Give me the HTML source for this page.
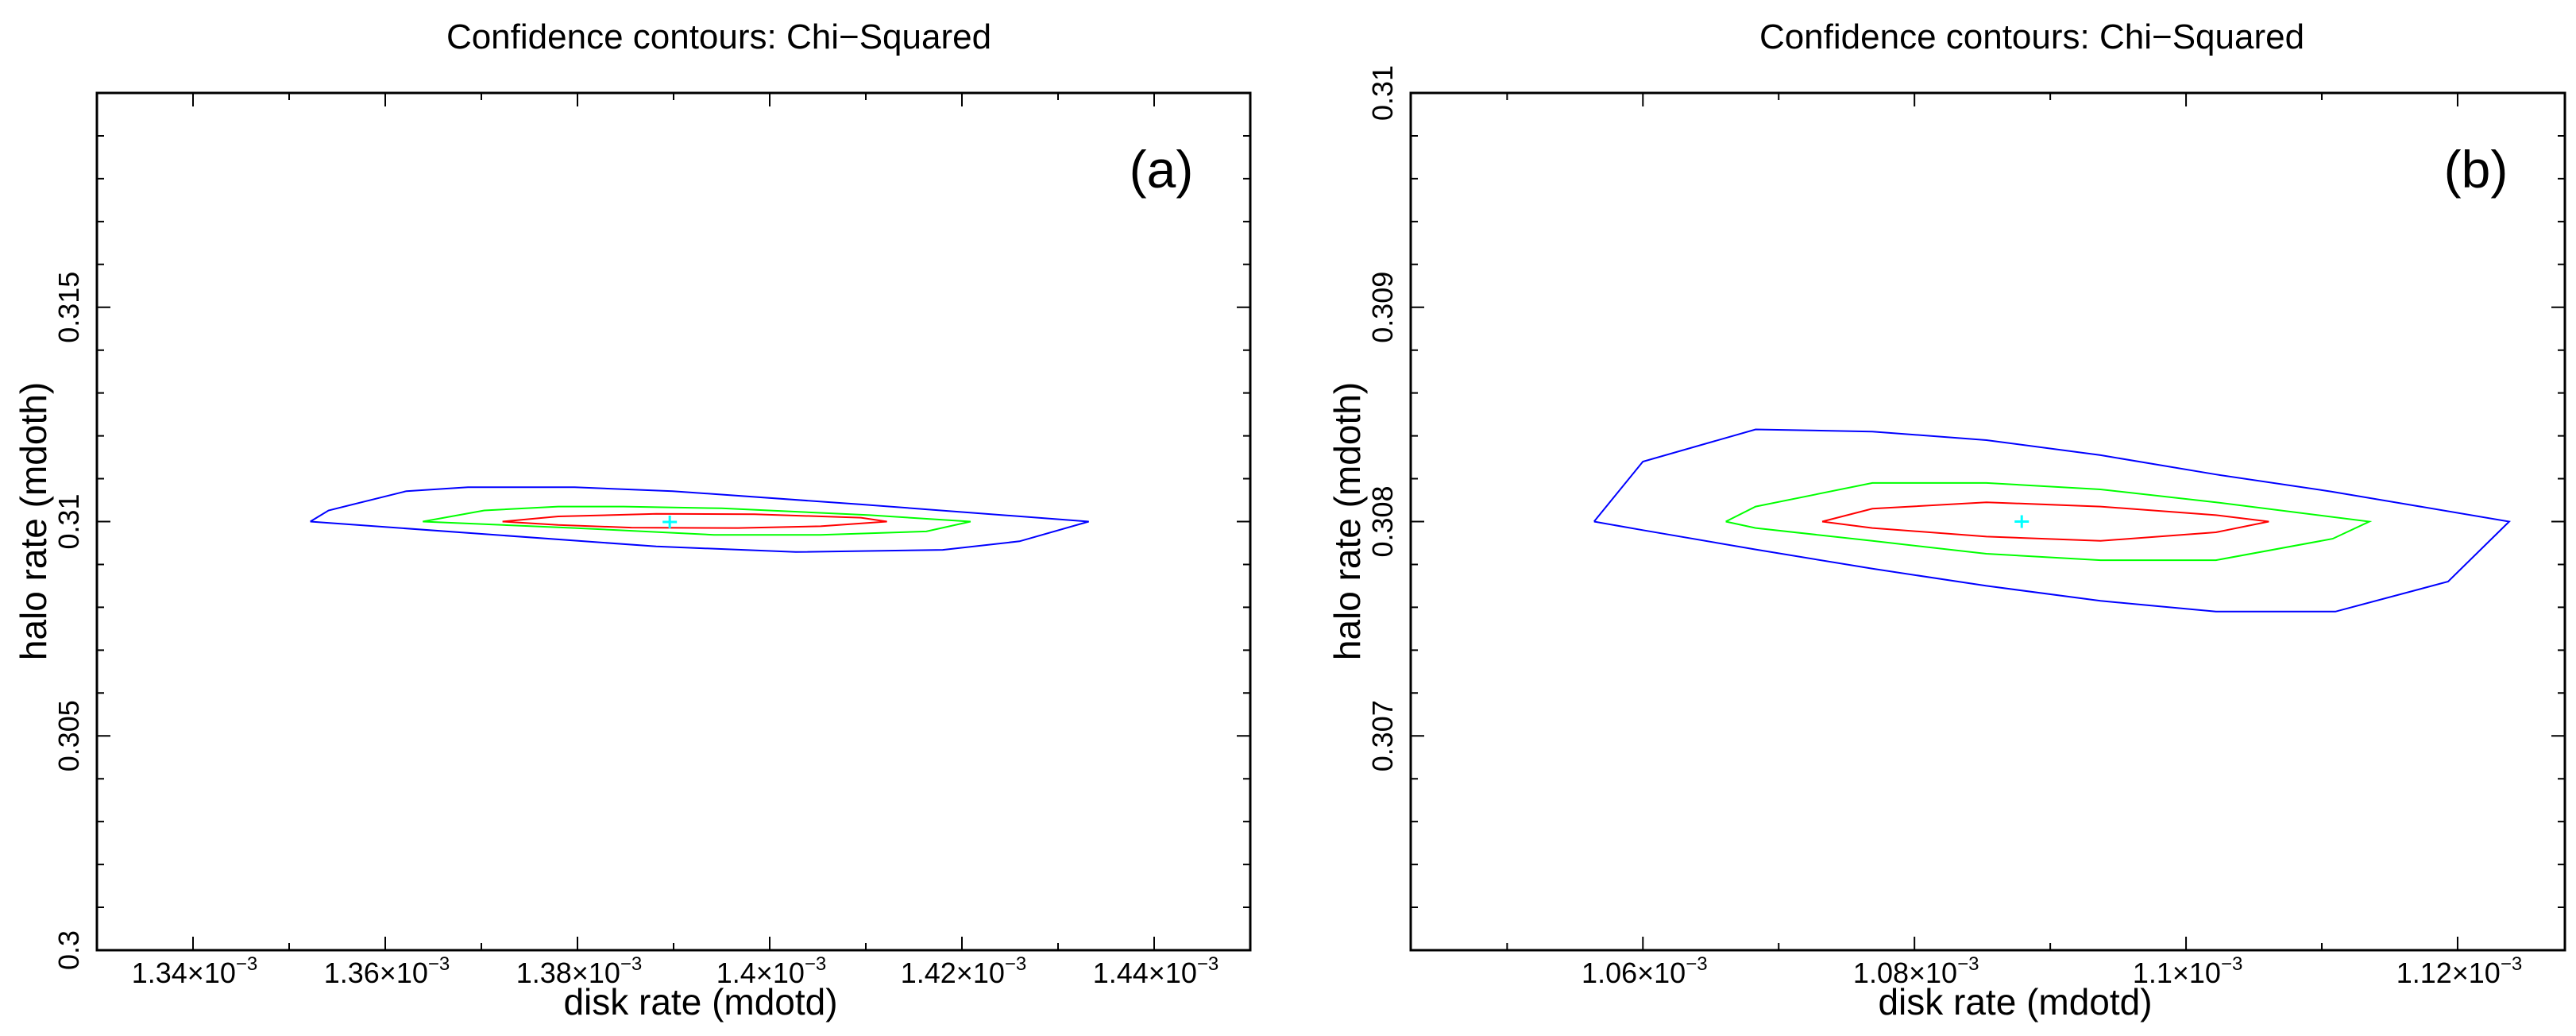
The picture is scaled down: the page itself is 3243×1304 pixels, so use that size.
<!DOCTYPE html>
<html><head><meta charset="utf-8"><style>
html,body{margin:0;padding:0;background:#fff;}
svg{display:block;}
text{font-family:"Liberation Sans",Arial,sans-serif;fill:#000;}
</style></head><body>
<svg id="chart" width="3243" height="1304" viewBox="0 0 3243 1304" xmlns="http://www.w3.org/2000/svg"></svg>
<script>
// ---- Panel (a) data ----
const aXTicks = [1.34, 1.36, 1.38, 1.40, 1.42, 1.44];
const aXTickLabels = ["1.34", "1.36", "1.38", "1.4", "1.42", "1.44"];
const aYTicks = [0.300, 0.305, 0.310, 0.315];
const aYTickLabels = ["0.3", "0.305", "0.31", "0.315"];
const aBlueX = [1.3522, 1.3541, 1.3622, 1.3686, 1.3797, 1.3899, 1.4095, 1.4332, 1.4260, 1.4180, 1.4027, 1.3882, 1.3522];
const aBlueY = [0.31000, 0.31026, 0.31071, 0.31080, 0.31080, 0.31071, 0.31040, 0.31000, 0.30954, 0.30934, 0.30929, 0.30942, 0.31000];
const aGreenX = [1.3639, 1.3703, 1.3780, 1.3848, 1.3950, 1.4104, 1.4209, 1.4163, 1.4053, 1.3942, 1.3797, 1.3639];
const aGreenY = [0.31000, 0.31026, 0.31035, 0.31035, 0.31031, 0.31015, 0.31000, 0.30977, 0.30969, 0.30969, 0.30985, 0.31000];
const aRedX = [1.3722, 1.3780, 1.3882, 1.3984, 1.4095, 1.4122, 1.4053, 1.3967, 1.3856, 1.3780, 1.3722];
const aRedY = [0.31000, 0.31012, 0.31018, 0.31017, 0.31009, 0.31000, 0.30989, 0.30985, 0.30986, 0.30992, 0.31000];
const aBest = [1.3896, 0.30999];
// ---- Panel (b) data ----
const bXTicks = [1.06, 1.08, 1.10, 1.12];
const bXTickLabels = ["1.06", "1.08", "1.1", "1.12"];
const bYTicks = [0.307, 0.308, 0.309, 0.310];
const bYTickLabels = ["0.307", "0.308", "0.309", "0.31"];
const bBlueX = [1.0564, 1.0600, 1.0683, 1.0769, 1.0853, 1.0937, 1.1022, 1.1107, 1.1238, 1.1193, 1.1110, 1.1022, 1.0937, 1.0853, 1.0769, 1.0683, 1.0600, 1.0564];
const bBlueY = [0.30800, 0.30828, 0.30843, 0.30842, 0.30838, 0.30831, 0.30822, 0.30814, 0.30800, 0.30772, 0.30758, 0.30758, 0.30763, 0.30770, 0.30778, 0.30787, 0.30796, 0.30800];
const bGreenX = [1.0661, 1.0683, 1.0769, 1.0853, 1.0937, 1.1022, 1.1135, 1.1108, 1.1022, 1.0937, 1.0853, 1.0769, 1.0683, 1.0661];
const bGreenY = [0.30800, 0.30807, 0.30818, 0.30818, 0.30815, 0.30809, 0.30800, 0.30792, 0.30782, 0.30782, 0.30785, 0.30791, 0.30797, 0.30800];
const bRedX = [1.0732, 1.0769, 1.0853, 1.0937, 1.1022, 1.1061, 1.1022, 1.0937, 1.0853, 1.0769, 1.0732];
const bRedY = [0.30800, 0.30806, 0.30809, 0.30807, 0.30803, 0.30800, 0.30795, 0.30791, 0.30793, 0.30797, 0.30800];
const bBest = [1.0879, 0.30800];

const NS = "http://www.w3.org/2000/svg";
const svg = document.getElementById('chart');
function mk(tag, attrs, parent) {
  const e = document.createElementNS(NS, tag);
  for (const k in attrs) e.setAttribute(k, attrs[k]);
  (parent || svg).appendChild(e);
  return e;
}

function panel(cfg) {
  const g = mk('g', {});
  
  
  const L = cfg.left, R = cfg.right, T = 117, B = 1196;
  const sx = v => L + (v - cfg.x0) / (cfg.x1 - cfg.x0) * (R - L);
  const sy = v => B - (v - cfg.y0) / (cfg.y1 - cfg.y0) * (B - T);

  // title
  const t = mk('text', {x: cfg.titleX, y: 61, 'font-size': 44, 'text-anchor': 'middle'}, g);
  t.textContent = 'Confidence contours: Chi\u2212Squared';
  
  

  // minor + major x ticks
  for (let v = cfg.x0, i = 0; v <= cfg.x1 + 1e-9; i++, v = cfg.xMinorStart + i * cfg.xMinor) {
    const val = cfg.xMinorStart + i * cfg.xMinor;
    if (val > cfg.x1 + 1e-9) break;
    if (val < cfg.x0 - 1e-9) continue;
    const major = cfg.xTicks.some(m => Math.abs(m - val) < 1e-6);
    const len = major ? 17 : 9;
    const x = sx(val);
    const tk = mk('path', {d: `M${x},${B}V${B - len}M${x},${T}V${T + len}`, stroke: '#000', 'stroke-width': 2}, g);
    
    
  }
  for (let i = 0; ; i++) {
    const val = cfg.yMinorStart + i * cfg.yMinor;
    if (val > cfg.y1 + 1e-9) break;
    if (val < cfg.y0 - 1e-9) continue;
    const major = cfg.yTicks.some(m => Math.abs(m - val) < 1e-7);
    const len = major ? 17 : 9;
    const y = sy(val);
    const tk = mk('path', {d: `M${L},${y}H${L + len}M${R},${y}H${R - len}`, stroke: '#000', 'stroke-width': 2}, g);
    
    
  }
  // x tick labels
  cfg.xTicks.forEach((v, i) => {
    const tx = mk('text', {x: sx(v) + 2, y: 1237, 'font-size': 36, 'text-anchor': 'middle'}, g);
    
    
    tx.appendChild(document.createTextNode(cfg.xTickLabels[i] + '\u00d710'));
    const sp = mk('tspan', {'font-size': 24, dy: -16}, tx);
    sp.textContent = '\u22123';
  });
  // y tick labels
  cfg.yTicks.forEach((v, i) => {
    const x = L - 23, y = sy(v);
    const ty = mk('text', {x: x, y: y, 'font-size': 36, 'text-anchor': 'middle', transform: `rotate(-90 ${x} ${y})`}, g);
    ty.textContent = cfg.yTickLabels[i];
    
    
  });
  // axis titles
  const xt = mk('text', {x: cfg.xLabelX, y: 1277, 'font-size': 46, 'text-anchor': 'middle'}, g);
  xt.textContent = 'disk rate (mdotd)';
  
  
  const yx = L - 64, yy = 656;
  const yt = mk('text', {x: yx, y: yy, 'font-size': 46, 'text-anchor': 'middle', transform: `rotate(-90 ${yx} ${yy})`}, g);
  yt.textContent = 'halo rate (mdoth)';
  
  

  // contours
  const series = [[cfg.blueX, cfg.blueY, '#0000ff', 'contour-99pct'], [cfg.greenX, cfg.greenY, '#00ff00', 'contour-90pct'], [cfg.redX, cfg.redY, '#ff0000', 'contour-68pct']];
  series.forEach(s => {
    const pts = s[0].map((v, i) => sx(v).toFixed(1) + ',' + sy(s[1][i]).toFixed(1)).join(' ');
    const pl = mk('polyline', {points: pts, fill: 'none', stroke: s[2], 'stroke-width': 2}, g);
    
    
  });
  const bx = sx(cfg.best[0]), by = sy(cfg.best[1]);
  const bp = mk('path', {d: `M${bx - 9},${by}H${bx + 9}M${bx},${by - 8}V${by + 8}`, stroke: '#00ffff', 'stroke-width': 3}, g);
  
  

  // frame
  const fr = mk('rect', {x: L, y: T, width: R - L, height: B - T, fill: 'none', stroke: '#000', 'stroke-width': 3}, g);
  
  
  // panel letter
  const pl = mk('text', {x: cfg.letterX, y: 236, 'font-size': 66, 'text-anchor': 'middle'}, g);
  pl.textContent = cfg.letter;
  
  
}

panel({name: 'panel-a', left: 122, right: 1574, x0: 1.33, x1: 1.45, y0: 0.300, y1: 0.320,
  xTicks: aXTicks, xTickLabels: aXTickLabels, yTicks: aYTicks, yTickLabels: aYTickLabels,
  xMinorStart: 1.33, xMinor: 0.01, yMinorStart: 0.300, yMinor: 0.001,
  blueX: aBlueX, blueY: aBlueY, greenX: aGreenX, greenY: aGreenY, redX: aRedX, redY: aRedY, best: aBest,
  titleX: 905, xLabelX: 882, letterX: 1462, letter: '(a)'});
panel({name: 'panel-b', left: 1776, right: 3229, x0: 1.0429, x1: 1.1279, y0: 0.306, y1: 0.310,
  xTicks: bXTicks, xTickLabels: bXTickLabels, yTicks: bYTicks, yTickLabels: bYTickLabels,
  xMinorStart: 1.05, xMinor: 0.01, yMinorStart: 0.306, yMinor: 0.0002,
  blueX: bBlueX, blueY: bBlueY, greenX: bGreenX, greenY: bGreenY, redX: bRedX, redY: bRedY, best: bBest,
  titleX: 2558, xLabelX: 2537, letterX: 3117, letter: '(b)'});
</script>
</body></html>
